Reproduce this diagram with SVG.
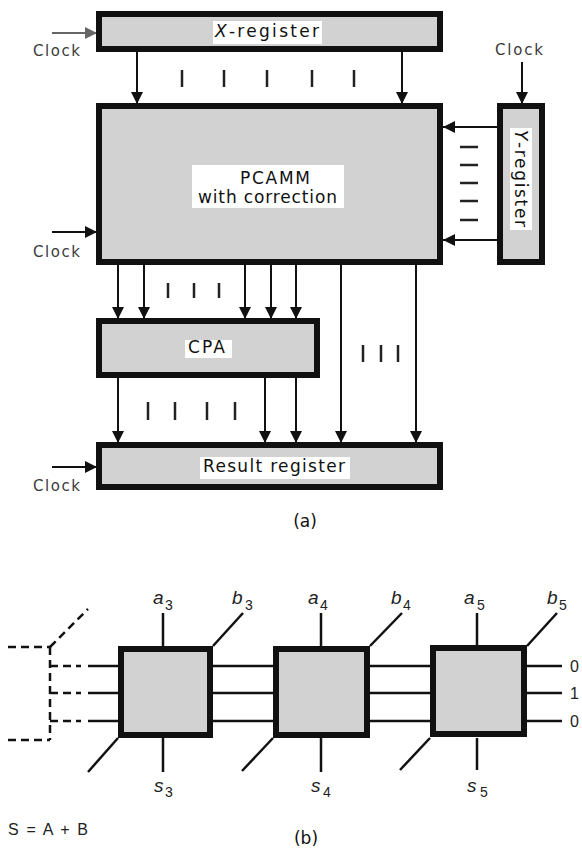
<svg xmlns="http://www.w3.org/2000/svg" width="582" height="851" viewBox="0 0 582 851">
<defs>
<marker id="ah" viewBox="0 0 12 12" refX="12" refY="6" markerWidth="12" markerHeight="12" markerUnits="userSpaceOnUse" orient="auto"><path d="M0,0 L12,6 L0,12 z" fill="#111"/></marker>
<marker id="ahg" viewBox="0 0 12 12" refX="12" refY="6" markerWidth="12" markerHeight="12" markerUnits="userSpaceOnUse" orient="auto"><path d="M0,0 L12,6 L0,12 z" fill="#666"/></marker>
</defs>
<style>
.box{fill:#d2d2d2;stroke:#111;stroke-width:6}
.lbl{fill:#fff}
.t{font-family:"DejaVu Sans",sans-serif;font-size:17px;fill:#111}
.clk{font-family:"DejaVu Sans",sans-serif;font-size:15px;fill:#3a3a3a}
.arr{stroke:#111;stroke-width:2;fill:none;marker-end:url(#ah)}
.tick{stroke:#222;stroke-width:2.5}
.ln{stroke:#111;stroke-width:2.5;fill:none}
.dsh{stroke:#111;stroke-width:2.5;fill:none;stroke-dasharray:8,5}
.sq{fill:#d2d2d2;stroke:#111;stroke-width:6}
.it{font-family:"Liberation Sans",Arial,sans-serif;font-size:19px;font-style:italic;fill:#222}
.sub{font-size:14px;font-style:normal}
.bt{font-family:"Liberation Sans",Arial,sans-serif;font-size:16px;fill:#222}
</style>

<g id="connectors">
<line x1="52" y1="33" x2="97" y2="33" stroke="#666" stroke-width="2" marker-end="url(#ahg)"/>
<line class="arr" x1="52" y1="232" x2="97" y2="232"/>
<line class="arr" x1="52" y1="467" x2="97" y2="467"/>
<line class="arr" x1="522" y1="62" x2="522" y2="104"/>
<line class="arr" x1="137" y1="52" x2="137" y2="104"/>
<line class="arr" x1="402" y1="52" x2="402" y2="104"/>
<line class="arr" x1="497" y1="127" x2="443" y2="127"/>
<line class="arr" x1="497" y1="240" x2="443" y2="240"/>
<line class="arr" x1="118" y1="265" x2="118" y2="319"/>
<line class="arr" x1="144" y1="265" x2="144" y2="319"/>
<line class="arr" x1="245" y1="265" x2="245" y2="319"/>
<line class="arr" x1="271" y1="265" x2="271" y2="319"/>
<line class="arr" x1="296" y1="265" x2="296" y2="319"/>
<line class="arr" x1="341" y1="265" x2="341" y2="443"/>
<line class="arr" x1="416" y1="265" x2="416" y2="443"/>
<line class="arr" x1="118" y1="378" x2="118" y2="443"/>
<line class="arr" x1="265" y1="378" x2="265" y2="443"/>
<line class="arr" x1="296" y1="378" x2="296" y2="443"/>
<g class="tick">
<line x1="182" y1="70" x2="182" y2="87"/><line x1="224" y1="70" x2="224" y2="87"/><line x1="267" y1="70" x2="267" y2="87"/><line x1="312" y1="70" x2="312" y2="87"/><line x1="354" y1="70" x2="354" y2="87"/>
<line x1="460" y1="147" x2="478" y2="147"/><line x1="460" y1="165" x2="478" y2="165"/><line x1="460" y1="183" x2="478" y2="183"/><line x1="460" y1="201" x2="478" y2="201"/><line x1="460" y1="220" x2="478" y2="220"/>
<line x1="168" y1="283" x2="168" y2="298"/><line x1="194" y1="283" x2="194" y2="298"/><line x1="219" y1="283" x2="219" y2="298"/>
<line x1="148" y1="402" x2="148" y2="420"/><line x1="175" y1="402" x2="175" y2="420"/><line x1="207" y1="402" x2="207" y2="420"/><line x1="235" y1="402" x2="235" y2="420"/>
<line x1="363" y1="345" x2="363" y2="362"/><line x1="381" y1="345" x2="381" y2="362"/><line x1="398" y1="345" x2="398" y2="362"/>
</g>
</g>

<g id="x-register">
<rect class="box" x="99" y="14" width="341" height="35"/>
<rect class="lbl" x="213" y="21" width="109" height="23"/>
<text class="t" x="215" y="37" textLength="104" lengthAdjust="spacing"><tspan font-style="italic">X</tspan>-register</text>
</g>
<g id="pcamm">
<rect class="box" x="99" y="106" width="341" height="156"/>
<rect class="lbl" x="192" y="165" width="152" height="43"/>
<text class="t" x="240" y="184" textLength="70" lengthAdjust="spacing">PCAMM</text>
<text class="t" x="198" y="203" textLength="139" lengthAdjust="spacing">with correction</text>
</g>
<g id="y-register">
<rect class="box" x="500" y="106" width="42" height="156"/>
<rect class="lbl" x="510" y="128" width="22" height="102"/>
<text class="t" transform="translate(515,130) rotate(90)" x="0" y="0" textLength="97" lengthAdjust="spacing"><tspan font-style="italic">Y</tspan>-register</text>
</g>
<g id="cpa">
<rect class="box" x="99" y="321" width="218" height="54"/>
<rect class="lbl" x="185" y="340" width="47" height="18"/>
<text class="t" x="188" y="353" textLength="37" lengthAdjust="spacing">CPA</text>
</g>
<g id="result-register">
<rect class="box" x="99" y="445" width="341" height="42"/>
<rect class="lbl" x="200" y="457" width="150" height="22"/>
<text class="t" x="203" y="472" textLength="142" lengthAdjust="spacing">Result register</text>
</g>
<g id="clock-labels">
<text class="clk" x="33" y="56" textLength="47" lengthAdjust="spacing">Clock</text>
<text class="clk" x="33" y="257" textLength="47" lengthAdjust="spacing">Clock</text>
<text class="clk" x="33" y="491" textLength="47" lengthAdjust="spacing">Clock</text>
<text class="clk" x="495" y="55" textLength="48" lengthAdjust="spacing">Clock</text>
</g>
<text class="t" x="305" y="527" text-anchor="middle">(a)</text>

<g id="adder-chain">
<g id="cells-wires">
<line class="ln" x1="88" y1="666" x2="118" y2="666"/><line class="ln" x1="88" y1="693" x2="118" y2="693"/><line class="ln" x1="88" y1="721" x2="118" y2="721"/>
<line class="ln" x1="213" y1="666" x2="273" y2="666"/><line class="ln" x1="213" y1="693" x2="273" y2="693"/><line class="ln" x1="213" y1="721" x2="273" y2="721"/>
<line class="ln" x1="370" y1="666" x2="430" y2="666"/><line class="ln" x1="370" y1="693" x2="430" y2="693"/><line class="ln" x1="370" y1="721" x2="430" y2="721"/>
<line class="ln" x1="527" y1="666" x2="562" y2="666"/><line class="ln" x1="527" y1="693" x2="562" y2="693"/><line class="ln" x1="527" y1="721" x2="562" y2="721"/>
<line class="ln" x1="163" y1="613" x2="163" y2="646"/><line class="ln" x1="163" y1="738" x2="163" y2="772"/>
<line class="ln" x1="213" y1="646" x2="243" y2="613"/><line class="ln" x1="118" y1="738" x2="88" y2="772"/>
<line class="ln" x1="321" y1="613" x2="321" y2="646"/><line class="ln" x1="321" y1="738" x2="321" y2="772"/>
<line class="ln" x1="370" y1="646" x2="402" y2="613"/><line class="ln" x1="273" y1="738" x2="242" y2="771"/>
<line class="ln" x1="477" y1="613" x2="477" y2="646"/><line class="ln" x1="477" y1="738" x2="477" y2="770"/>
<line class="ln" x1="527" y1="646" x2="557" y2="613"/><line class="ln" x1="430" y1="738" x2="400" y2="770"/>
</g>
<g id="dashed">
<line class="dsh" x1="8" y1="647" x2="50" y2="647"/>
<line class="dsh" x1="8" y1="740" x2="50" y2="740"/>
<line class="dsh" x1="50" y1="647" x2="50" y2="740"/>
<line class="dsh" x1="50" y1="647" x2="88" y2="609" stroke-width="3" stroke-dasharray="10,5"/>
<line class="dsh" x1="50" y1="666" x2="81" y2="666" stroke-width="3" stroke-dasharray="12,4"/>
<line class="dsh" x1="50" y1="693" x2="81" y2="693" stroke-width="3" stroke-dasharray="12,4"/>
<line class="dsh" x1="50" y1="721" x2="81" y2="721" stroke-width="3" stroke-dasharray="12,4"/>
</g>
<g id="cell3"><rect class="sq" x="121" y="649" width="89" height="86"/></g>
<g id="cell4"><rect class="sq" x="276" y="649" width="91" height="86"/></g>
<g id="cell5"><rect class="sq" x="433" y="648" width="91" height="86"/></g>
<g id="labels-b">
<text class="it" x="153" y="604">a<tspan class="sub" x="165" y="610">3</tspan></text>
<text class="it" x="232" y="604">b<tspan class="sub" x="245" y="610">3</tspan></text>
<text class="it" x="154" y="792">s<tspan class="sub" x="165" y="797">3</tspan></text>
<text class="it" x="308" y="604">a<tspan class="sub" x="320" y="610">4</tspan></text>
<text class="it" x="391" y="604">b<tspan class="sub" x="403" y="610">4</tspan></text>
<text class="it" x="311" y="792">s<tspan class="sub" x="323" y="797">4</tspan></text>
<text class="it" x="464" y="604">a<tspan class="sub" x="477" y="610">5</tspan></text>
<text class="it" x="547" y="604">b<tspan class="sub" x="559" y="610">5</tspan></text>
<text class="it" x="467" y="792">s<tspan class="sub" x="480" y="797">5</tspan></text>
<text class="bt" x="570" y="672">0</text>
<text class="bt" x="570" y="699">1</text>
<text class="bt" x="570" y="727">0</text>
<text class="bt" x="8" y="835" textLength="80" lengthAdjust="spacing">S = A + B</text>
<text class="t" x="306" y="844" text-anchor="middle">(b)</text>
</g>
</g>
</svg>
